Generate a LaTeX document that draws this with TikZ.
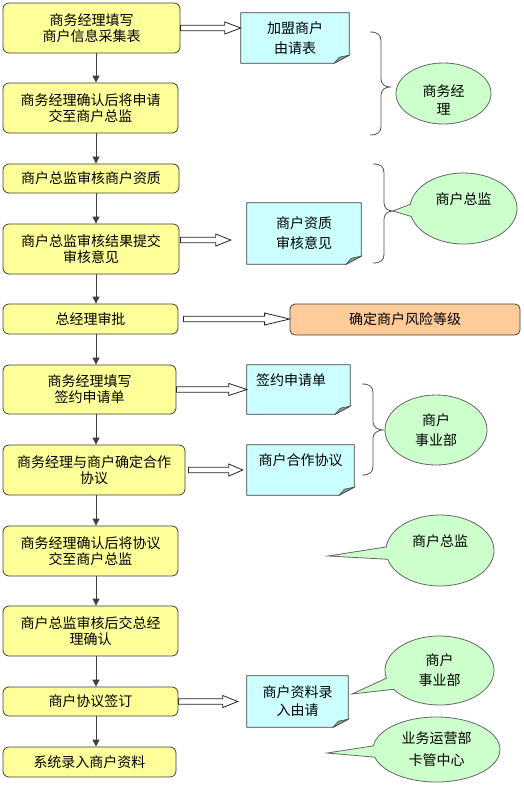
\documentclass[tikz,border=0pt]{standalone}
\usepackage{fontspec}
\setmainfont{Noto Sans CJK SC}
\usetikzlibrary{shapes.geometric,shapes.callouts,calc,arrows.meta}
\pgfdeclarelayer{bg}
\pgfsetlayers{bg,main}
\definecolor{yel}{HTML}{FFFF99}
\definecolor{cyn}{HTML}{CCFFFF}
\definecolor{grn}{HTML}{CCFFCC}
\definecolor{org}{HTML}{FFCC99}
\definecolor{edge}{HTML}{404040}
\definecolor{fold}{HTML}{80A0A0}
\begin{document}
\begin{tikzpicture}[x=1pt,y=-1pt,
  stepbox/.style={draw=edge, fill=yel, rounded corners=6pt, line width=0.8pt, inner sep=0pt, align=center, font=\fontsize{14}{16}\selectfont},
  docbox/.style={inner sep=0pt, align=center, font=\fontsize{14}{20}\selectfont},
  riskbox/.style={draw=edge, fill=org, rounded corners=5pt, line width=0.8pt, inner sep=0pt, align=center, font=\fontsize{14}{16}\selectfont},
  roleell/.style={ellipse, draw=edge!80, fill=grn, line width=0.8pt, inner sep=0pt, align=center, font=\fontsize{14}{20}\selectfont},
  rolecall/.style={ellipse callout, draw=edge!80, fill=grn, line width=0.8pt, inner sep=0pt, align=center, callout pointer arc=20, font=\fontsize{14}{20}\selectfont},
  flow/.style={draw=edge, line width=0.8pt, -{Triangle[length=7pt,width=7pt]}},
  harrow/.style n args={3}{draw=black!85, fill=white, line width=0.8pt,
    to path={let \p1=(\tikztostart), \p2=(\tikztotarget) in
      (\x1+#1,\y1+2.75pt) -- (\x2-#2-#3,\y1+2.75pt) -- (\x2-#2-#3,\y1+6pt) -- (\x2-#2,\y1)
      -- (\x2-#2-#3,\y1-6pt) -- (\x2-#2-#3,\y1-2.75pt) -- (\x1+#1,\y1-2.75pt) -- cycle}},
  bracepath/.style={draw=edge!90, line width=0.8pt}
]
\useasboundingbox (0,0) rectangle (523,785);

% process steps
\node[stepbox, minimum width=177pt, minimum height=50pt] (b1) at (91.5,28) {商务经理填写\\商户信息采集表};
\node[stepbox, minimum width=175pt, minimum height=50pt] (b2) at (90.5,108) {商务经理确认后将申请\\交至商户总监};
\node[stepbox, minimum width=176pt, minimum height=29pt] (b3) at (91,178.5) {商户总监审核商户资质};
\node[stepbox, minimum width=176pt, minimum height=50pt] (b4) at (91,249) {商户总监审核结果提交\\审核意见};
\node[stepbox, minimum width=175pt, minimum height=30pt] (b5) at (90.5,319) {总经理审批};
\node[stepbox, minimum width=173pt, minimum height=49pt] (b6) at (89.5,389.5) {商务经理填写\\签约申请单};
\node[stepbox, minimum width=182pt, minimum height=50pt] (b7) at (94,470) {商务经理与商户确定合作\\协议};
\node[stepbox, minimum width=175pt, minimum height=50pt] (b8) at (90.5,551) {商务经理确认后将协议\\交至商户总监};
\node[stepbox, minimum width=175pt, minimum height=50pt] (b9) at (90.5,631) {商户总监审核后交总经\\理确认};
\node[stepbox, minimum width=175pt, minimum height=29pt] (b10) at (90.5,701.5) {商户协议签订};
\node[stepbox, minimum width=173pt, minimum height=30pt] (b11) at (89.5,762) {系统录入商户资料};

% documents
\node[docbox, minimum width=108pt, minimum height=50pt] (dA) at (295,38) {加盟商户\\由请表};
\node[docbox, minimum width=114pt, minimum height=61pt] (dB) at (304,233.5) {商户资质\\审核意见};
\node[docbox, minimum width=103pt, minimum height=49pt, text width=85pt, inner xsep=9pt, align=left] (dC) at (298.5,389.5) {签约申请单\\~};
\node[docbox, minimum width=107pt, minimum height=50pt] (dD) at (300.5,470) {商户合作协议\\~};
\node[docbox, minimum width=101pt, minimum height=51pt, font=\fontsize{14}{18}\selectfont] (dE) at (297.5,701.5) {商户资料录\\入由请};

% risk level
\node[riskbox, minimum width=230pt, minimum height=31pt] (risk) at (405,319.5) {确定商户风险等级};

% roles
\coordinate (t2) at (393,211);
\coordinate (t4) at (328,556);
\coordinate (t5) at (352,694);
\coordinate (t6) at (327,753);
\node[roleell, minimum width=95pt, minimum height=61pt, font=\fontsize{14}{18}\selectfont] (r1) at (443.5,93.5) {\rule{0pt}{6pt}\\商务经\\理};
\node[rolecall, minimum width=107pt, minimum height=71pt, callout absolute pointer={(t2)}] (r2) at (463.5,208.5) {商户总监\\~};
\node[roleell, minimum width=102pt, minimum height=70pt] (r3) at (436,430) {商户\\事业部};
\node[rolecall, minimum width=108pt, minimum height=71pt, callout absolute pointer={(t4)}] (r4) at (440,550.5) {商户总监\\~};
\node[rolecall, minimum width=109pt, minimum height=69pt, callout absolute pointer={(t5)}] (r5) at (439.5,670.5) {商户\\事业部};
\node[rolecall, minimum width=127pt, minimum height=65pt, callout absolute pointer={(t6)}, font=\fontsize{14}{22}\selectfont] (r6) at (436.5,749.5) {业务运营部\\卡管中心};

% flow arrows
\coordinate (ax) at (96,0);
\foreach \a/\b in {b1/b2,b2/b3,b3/b4,b4/b5,b5/b6,b6/b7,b7/b8,b8/b9,b9/b10,b10/b11}
  \draw[flow] (\a.south -| ax) -- (\b.north -| ax);

% hollow arrows
\draw[harrow={0pt}{0pt}{16pt}] (b1.east) to (dA.west);
\draw[harrow={1pt}{16pt}{15pt}] ([yshift=9pt]b4.east) to (dB.west);
\draw[harrow={5pt}{0pt}{25pt}] (b5.east) to (risk.west);
\draw[harrow={0pt}{0pt}{18pt}] (b6.east) to (dC.west);
\draw[harrow={3pt}{4pt}{14pt}] (b7.east) to (dD.west);
\draw[harrow={0pt}{9pt}{15pt}] (b10.east) to (dE.west);

% braces
\draw[bracepath] (370,32) .. controls (378,32) and (381,35) .. (381,41) -- (381,79) .. controls (381,84) and (385,87) .. (390,87) .. controls (385,87) and (381,90) .. (381,95) -- (381,126) .. controls (381,132) and (378,135) .. (370,135);
\draw[bracepath] (373,164) .. controls (381,164) and (384,167) .. (384,173) -- (384,203) .. controls (384,208) and (388,211) .. (393,211) .. controls (388,211) and (384,214) .. (384,219) -- (384,254) .. controls (384,260) and (381,263) .. (373,263);
\draw[bracepath] (362,384) .. controls (370,384) and (373,387) .. (373,393) -- (373,422) .. controls (373,427) and (378,430) .. (383,430) .. controls (378,430) and (373,433) .. (373,438) -- (373,466) .. controls (373,472) and (370,475) .. (362,475);

% document shapes behind their texts
\begin{pgfonlayer}{bg}
\fill[white] (0,0) rectangle (523,785);
\foreach \n in {dA,dB,dC,dD,dE}{
  \filldraw[fill=cyn, draw=edge, line width=0.8pt] (\n.north west) -- (\n.north east) -- ([yshift=8pt]\n.south east) -- ([xshift=-15pt]\n.south east) -- (\n.south west) -- cycle;
  \filldraw[fill=fold, draw=edge, line width=0.5pt] ([yshift=8pt]\n.south east) -- ([xshift=-15pt]\n.south east) -- ([xshift=-10pt,yshift=6pt]\n.south east) -- cycle;
}
\end{pgfonlayer}
\end{tikzpicture}
\end{document}
